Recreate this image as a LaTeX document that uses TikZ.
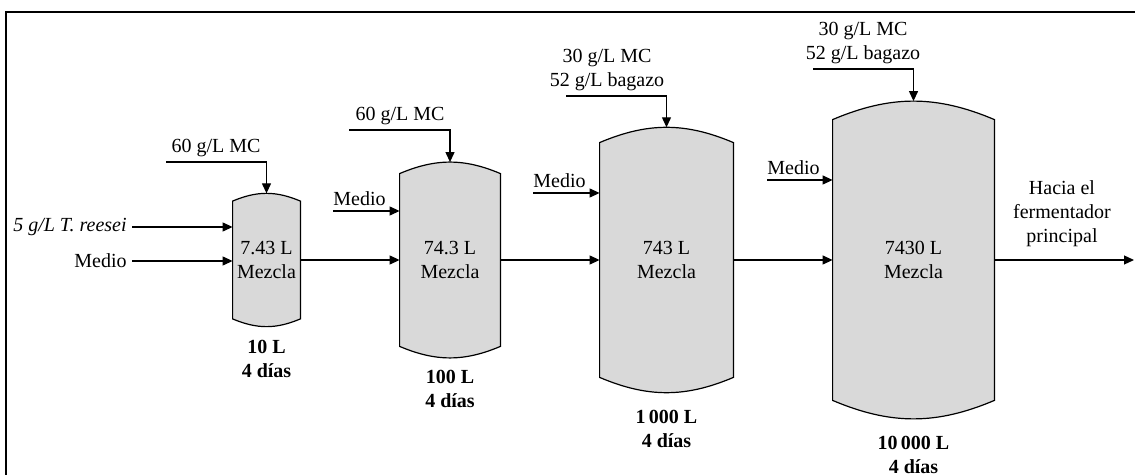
\documentclass[tikz,border=0pt]{standalone}
\usepackage{fontspec}
\setmainfont{Liberation Serif}
\usetikzlibrary{arrows.meta,positioning,backgrounds}

\begin{document}
\begin{tikzpicture}[x=0.5pt,y=-0.5pt,
tank/.style={inner sep=0pt,align=center},
shell/.style={draw,fill=gray!30,line width=0.6pt},
feed/.style={inner sep=2.5pt,align=center},
sizelabel/.style={font=\bfseries,align=center},
flow/.style={-{Triangle[length=5pt,width=4.5pt]},line width=0.6pt},
bend angle=23]
\useasboundingbox (0,0) rectangle (1135,475);
\clip (0,0) rectangle (1135,475);
\draw[line width=1pt] (6,480)--(6,12)--(1140,12);
% tanks
\node[tank,minimum width=33.5pt,minimum height=58.5pt] (v1) at (266.5,260) {7.43 L\\Mezcla};
\node[tank,minimum width=50pt,minimum height=86pt] (v2) at (450,260) {74.3 L\\Mezcla};
\node[tank,minimum width=66.5pt,minimum height=117pt] (v3) at (666.5,260) {743 L\\Mezcla};
\node[tank,minimum width=80.5pt,minimum height=140pt] (v4) at (913.5,260) {7430 L\\Mezcla};
\begin{scope}[on background layer]
\foreach \v in {v1,v2,v3,v4}
  \draw[shell] (\v.north west) to[bend left] coordinate[pos=.5] (\v top) (\v.north east)
    -- (\v.south east) to[bend left] (\v.south west) -- cycle;
\end{scope}
\node[sizelabel,below=7pt of v1] (c1) {10 L\\4 días};
\node[sizelabel,below=8.5pt of v2] (c2) {100 L\\4 días};
\node[sizelabel,below=13pt of v3] (c3) {1\,000 L\\4 días};
\node[sizelabel,below=14.5pt of v4] (c4) {10\,000 L\\4 días};
% main line
\draw[flow] (v1)--(v2);
\draw[flow] (v2)--(v3);
\draw[flow] (v3)--(v4);
\coordinate (out) at (1134,260);
\draw[flow] (v4)--(out);
\node[align=center] (dest) at (1062,214) {Hacia el\\fermentador\\principal};
% first tank feeds
\node[feed,anchor=east] (tr) at (132,227) {\textit{5 g/L T. reesei}};
\node[feed,anchor=east] (md1) at (132,261) {Medio};
\draw[flow] (tr)--(tr-|v1.west);
\draw[flow] (md1)--(md1-|v1.west);
% top feeds
\coordinate (mc1in) at (166,162);
\node[feed,anchor=south] (mc1) at (216,162) {60 g/L MC};
\draw[flow] (mc1in)-|(v1top);
\coordinate (mc2in) at (349,130);
\node[feed,anchor=south] (mc2) at (400,130) {60 g/L MC};
\draw[flow] (mc2in)-|(v2top);
\coordinate (mc3in) at (566,96);
\node[feed,anchor=south] (mc3) at (607,96) {30 g/L MC\\52 g/L bagazo};
\draw[flow] (mc3in)-|(v3top);
\coordinate (mc4in) at (813,69);
\node[feed,anchor=south] (mc4) at (863,69) {30 g/L MC\\52 g/L bagazo};
\draw[flow] (mc4in)-|(v4top);
% medio feeds
\coordinate (md2in) at (333,211);
\node[feed,anchor=south west,inner xsep=0pt] (md2) at (md2in) {Medio};
\draw[flow] (md2in)--(md2in-|v2.west);
\coordinate (md3in) at (533,193);
\node[feed,anchor=south west,inner xsep=0pt] (md3) at (md3in) {Medio};
\draw[flow] (md3in)--(md3in-|v3.west);
\coordinate (md4in) at (767,180);
\node[feed,anchor=south west,inner xsep=0pt] (md4) at (md4in) {Medio};
\draw[flow] (md4in)--(md4in-|v4.west);
\end{tikzpicture}
\end{document}
